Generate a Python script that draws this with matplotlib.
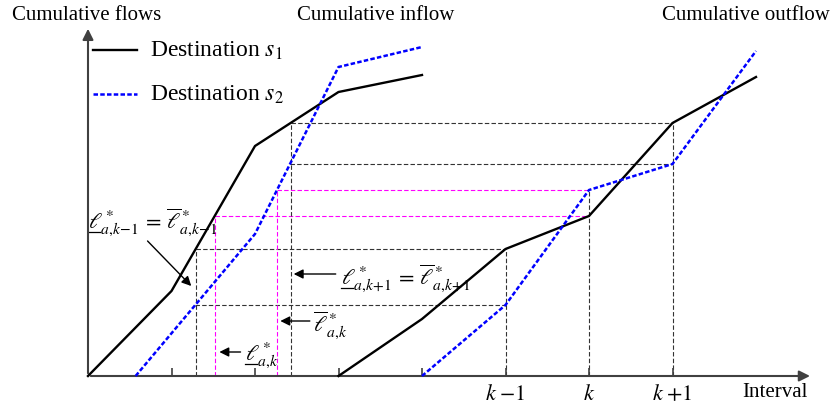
import numpy as np
import matplotlib
matplotlib.use('Agg')
import matplotlib.pyplot as plt

plt.rcParams['font.family'] = ['Liberation Serif', 'DejaVu Serif']
plt.rcParams['mathtext.fontset'] = 'stix'

# Curvas acumuladas (x en intervalos, y en unidades de flujo)
in1_x = [0, 1, 2, 3, 4]
in1_y = [0, 8.5, 23.0, 28.4, 30.1]
in2_x = [0.57, 2, 3, 4]
in2_y = [0, 14.2, 30.9, 32.9]
out1_x = [3, 4, 5, 6, 7, 8]
out1_y = [0, 5.7, 12.7, 16.0, 25.3, 29.9]
out2_x = [4, 5, 6, 7, 8]
out2_y = [0, 7.1, 18.6, 21.2, 32.5]

ticks = [1, 2, 3, 4, 5, 6, 7]
k_ticks = [5, 6, 7]
k_labels = [r'$k\;{-}1$', r'$k$', r'$k\;{+}1$']

fig = plt.figure(figsize=(8.35, 4.1), dpi=100)
ax = fig.add_axes([0, 0, 1, 1])
ax.set_xlim(-88 / 83.5, (835 - 88) / 83.5)
ax.set_ylim(-3.3, 37.7)
ax.axis('off')

dark = '#333333'
mag = '#ff00ff'
dash = (0, (4, 2))

# lineas auxiliares: nivel de salida en k -> instante de entrada
for k in k_ticks:
    c = mag if k == 6 else dark
    l1 = np.interp(k, out1_x, out1_y)
    l2 = np.interp(k, out2_x, out2_y)
    t1 = np.interp(l1, in1_y, in1_x)
    t2 = np.interp(l2, in2_y, in2_x)
    ax.hlines([l1, l2], [t1, t2], k, colors=c, lw=0.8, linestyles=dash, zorder=1)
    if abs(t1 - t2) < 0.05:
        # mismo instante para ambos destinos -> una sola vertical
        ax.vlines(t1, 0, max(l1, l2), colors=c, lw=0.8, linestyles=dash, zorder=1)
    else:
        ax.vlines([t1, t2], 0, [l1, l2], colors=c, lw=0.8, linestyles=dash, zorder=1)
    ax.vlines(k, 0, max(l1, l2), colors=dark, lw=0.8, linestyles=dash, zorder=1)

# ejes con flechas
ax.annotate('', xy=(8.68, 0), xytext=(0, 0),
            arrowprops=dict(arrowstyle='-|>', color='#404040', lw=1.5, mutation_scale=16))
ax.annotate('', xy=(0, 35.0), xytext=(0, 0),
            arrowprops=dict(arrowstyle='-|>', color='#404040', lw=1.5, mutation_scale=16))
ax.vlines(ticks, 0, 0.8, colors='#404040', lw=1.2)

# curvas
ax.plot(in1_x, in1_y, color='black', lw=1.7, zorder=3)
ax.plot(out1_x, out1_y, color='black', lw=1.7, zorder=3)
ax.plot(in2_x, in2_y, color='blue', lw=1.8, linestyle=(0, (1.8, 0.9)), zorder=3)
ax.plot(out2_x, out2_y, color='blue', lw=1.8, linestyle=(0, (1.8, 0.9)), zorder=3)

# leyenda
ax.plot([0.06, 0.59], [32.6, 32.6], color='black', lw=1.7)
ax.plot([0.06, 0.59], [28.2, 28.2], color='blue', lw=1.8, linestyle=(0, (1.8, 0.9)))
ax.text(0.74, 32.6, r'Destination $s_1$', fontsize=17, va='center', ha='left')
ax.text(0.74, 28.2, r'Destination $s_2$', fontsize=17, va='center', ha='left')

# titulos
ax.text(-0.91, 36.2, 'Cumulative flows', fontsize=15, va='center', ha='left')
ax.text(2.50, 36.2, 'Cumulative inflow', fontsize=15, va='center', ha='left')
ax.text(6.87, 36.2, 'Cumulative outflow', fontsize=15, va='center', ha='left')
ax.text(7.84, -1.6, 'Interval', fontsize=15, va='center', ha='left')
for k, lab in zip(k_ticks, k_labels):
    ax.text(k, -0.8, lab, fontsize=16, va='top', ha='center')

# etiquetas de ell
def ell_label(x, y, s, ul=0.14):
    ax.text(x, y, s, fontsize=16, ha='left', va='baseline')
    ax.plot([x, x + ul], [y - 0.45, y - 0.45], color='black', lw=0.9)

ell_label(0.0, 14.9, r'$\ell^*_{a,\!k{-}1}\,=\,\overline{\ell}^*_{a,\!k{-}1}$')
ell_label(3.03, 9.3, r'$\ell^*_{a,\!k{+}1}\,=\,\overline{\ell}^*_{a,\!k{+}1}$')
ax.text(2.69, 4.6, r'$\overline{\ell}^*_{a,\!k}$', fontsize=16, ha='left', va='baseline')
ell_label(1.88, 1.7, r'$\ell^*_{a,\!k}$')

arr = dict(arrowstyle='-|>', color='black', lw=1.0, mutation_scale=14)
ax.annotate('', xy=(1.26, 8.8), xytext=(0.69, 13.7), arrowprops=arr)
ax.annotate('', xy=(2.43, 10.2), xytext=(3.0, 10.2), arrowprops=arr)
ax.annotate('', xy=(2.27, 5.5), xytext=(2.69, 5.5), arrowprops=arr)
ax.annotate('', xy=(1.54, 2.4), xytext=(1.86, 2.4), arrowprops=arr)

fig.savefig('out.png', dpi=100)
